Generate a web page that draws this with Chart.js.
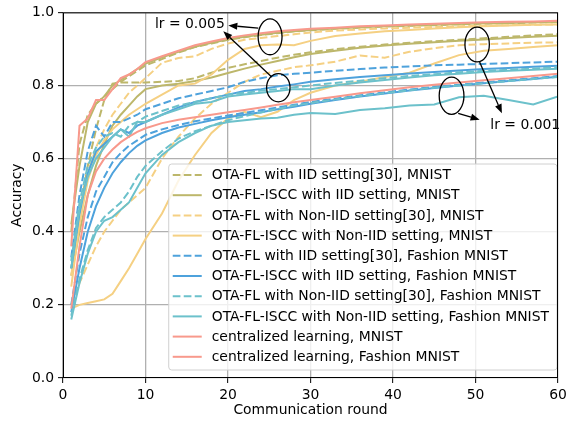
<!DOCTYPE html>
<html>
<head>
<meta charset="utf-8">
<script src="https://cdn.jsdelivr.net/npm/chart.js@4.4.1/dist/chart.umd.min.js"></script>
<style>
html,body{margin:0;padding:0;background:#fff}
canvas{display:block}
</style>
</head>
<body>
<canvas id="acc" width="585" height="423"></canvas>
<script>
// communication rounds where values were read
const rounds = [1,2,3,4,5,6,7,8,9,10,12,14,16,18,20,22,24,26,28,30,33,36,39,42,45,48,51,54,57,60];

// MNIST, lr = 0.005
const otaIidMnist005     = [0.40,0.64,0.72,0.75,0.77,0.79,0.81,0.825,0.84,0.855,0.872,0.89,0.905,0.915,0.925,0.932,0.938,0.943,0.948,0.951,0.955,0.958,0.961,0.963,0.965,0.967,0.969,0.970,0.972,0.973];
const isccIidMnist005    = [0.42,0.58,0.70,0.75,0.77,0.80,0.815,0.83,0.845,0.86,0.877,0.892,0.906,0.917,0.926,0.933,0.939,0.944,0.948,0.952,0.956,0.959,0.962,0.964,0.966,0.968,0.970,0.971,0.973,0.974];
const otaNonIidMnist005  = [0.28,0.45,0.56,0.63,0.68,0.72,0.75,0.78,0.80,0.82,0.862,0.875,0.88,0.90,0.915,0.925,0.93,0.935,0.94,0.945,0.95,0.953,0.956,0.958,0.96,0.962,0.964,0.965,0.966,0.967];
const isccNonIidMnist005 = [0.25,0.42,0.54,0.61,0.65,0.68,0.70,0.72,0.735,0.75,0.775,0.80,0.805,0.83,0.87,0.90,0.91,0.912,0.91,0.922,0.935,0.942,0.948,0.952,0.956,0.959,0.962,0.964,0.966,0.967];
// MNIST, lr = 0.001
const otaIidMnist001     = [0.30,0.45,0.58,0.68,0.76,0.805,0.808,0.808,0.808,0.808,0.81,0.812,0.82,0.835,0.848,0.858,0.867,0.876,0.884,0.891,0.899,0.906,0.912,0.917,0.921,0.925,0.929,0.933,0.937,0.94];
const isccIidMnist001    = [0.28,0.40,0.50,0.58,0.64,0.69,0.72,0.745,0.77,0.79,0.80,0.805,0.812,0.822,0.834,0.846,0.857,0.867,0.877,0.886,0.895,0.903,0.909,0.914,0.918,0.922,0.926,0.93,0.933,0.936];
const otaNonIidMnist001  = [0.20,0.26,0.31,0.36,0.40,0.43,0.46,0.48,0.50,0.52,0.60,0.66,0.71,0.75,0.78,0.81,0.83,0.84,0.85,0.855,0.865,0.882,0.876,0.892,0.902,0.91,0.913,0.915,0.917,0.918];
const isccNonIidMnist001 = [0.19,0.20,0.205,0.21,0.215,0.23,0.265,0.30,0.34,0.38,0.45,0.54,0.61,0.67,0.71,0.728,0.713,0.728,0.76,0.78,0.80,0.81,0.823,0.835,0.86,0.883,0.895,0.90,0.905,0.91];
// Fashion MNIST, lr = 0.005
const otaIidFashion005     = [0.33,0.50,0.62,0.69,0.66,0.70,0.70,0.71,0.72,0.735,0.75,0.765,0.775,0.785,0.795,0.81,0.82,0.828,0.832,0.835,0.84,0.845,0.849,0.852,0.855,0.857,0.859,0.861,0.863,0.865];
const isccIidFashion005    = [0.30,0.45,0.56,0.62,0.64,0.66,0.68,0.67,0.69,0.70,0.72,0.74,0.755,0.765,0.775,0.785,0.79,0.797,0.803,0.81,0.817,0.823,0.828,0.833,0.837,0.841,0.845,0.848,0.851,0.854];
const otaNonIidFashion005  = [0.32,0.48,0.58,0.63,0.66,0.67,0.66,0.69,0.70,0.715,0.73,0.745,0.755,0.765,0.775,0.78,0.786,0.79,0.795,0.80,0.807,0.813,0.82,0.826,0.831,0.836,0.84,0.843,0.846,0.85];
const isccNonIidFashion005 = [0.30,0.46,0.55,0.60,0.63,0.66,0.68,0.66,0.70,0.70,0.72,0.735,0.75,0.755,0.77,0.775,0.78,0.785,0.79,0.79,0.80,0.808,0.815,0.822,0.828,0.832,0.837,0.84,0.843,0.846];
// Fashion MNIST, lr = 0.001
const otaIidFashion001     = [0.20,0.34,0.44,0.51,0.55,0.59,0.615,0.635,0.65,0.665,0.68,0.692,0.702,0.71,0.718,0.725,0.732,0.74,0.747,0.755,0.764,0.773,0.781,0.789,0.796,0.802,0.808,0.814,0.82,0.826];
const isccIidFashion001    = [0.18,0.30,0.40,0.47,0.52,0.56,0.59,0.615,0.635,0.65,0.67,0.685,0.695,0.705,0.713,0.72,0.727,0.735,0.742,0.75,0.76,0.77,0.778,0.786,0.793,0.80,0.806,0.812,0.818,0.824];
const otaNonIidFashion001  = [0.17,0.27,0.35,0.41,0.44,0.46,0.48,0.51,0.55,0.58,0.62,0.655,0.675,0.69,0.705,0.716,0.726,0.736,0.745,0.752,0.762,0.771,0.779,0.787,0.794,0.80,0.806,0.812,0.818,0.823];
const isccNonIidFashion001 = [0.16,0.26,0.34,0.40,0.43,0.44,0.46,0.48,0.52,0.56,0.61,0.645,0.67,0.69,0.70,0.705,0.71,0.712,0.72,0.725,0.722,0.733,0.738,0.745,0.748,0.768,0.772,0.76,0.748,0.77];
// centralized learning
const centralMnist   = [0.36,0.69,0.71,0.76,0.76,0.79,0.82,0.83,0.845,0.864,0.88,0.895,0.91,0.92,0.93,0.937,0.943,0.948,0.952,0.955,0.958,0.962,0.964,0.967,0.969,0.971,0.973,0.974,0.975,0.977];
const centralFashion = [0.19,0.36,0.50,0.565,0.60,0.625,0.645,0.66,0.673,0.683,0.697,0.706,0.713,0.72,0.727,0.733,0.74,0.747,0.754,0.76,0.769,0.779,0.787,0.795,0.802,0.808,0.814,0.82,0.826,0.832];

const OLIVE='#bdb76b', YELLOW='#f5d083', BLUE='#4ea2dc', CYAN='#6cc1cb', SALMON='#f8998c';
const FONT = 'DejaVu Sans';
const FS = 13.9;

// legend entries, each with the curves for lr = 0.005 and lr = 0.001
const series = [
  {label:'OTA-FL with IID setting[30], MNIST', color:OLIVE, dashed:true, curves:[otaIidMnist005, otaIidMnist001]},
  {label:'OTA-FL-ISCC with IID setting, MNIST', color:OLIVE, dashed:false, curves:[isccIidMnist005, isccIidMnist001]},
  {label:'OTA-FL with Non-IID setting[30], MNIST', color:YELLOW, dashed:true, curves:[otaNonIidMnist005, otaNonIidMnist001]},
  {label:'OTA-FL-ISCC with Non-IID setting, MNIST', color:YELLOW, dashed:false, curves:[isccNonIidMnist005, isccNonIidMnist001]},
  {label:'OTA-FL with IID setting[30], Fashion MNIST', color:BLUE, dashed:true, curves:[otaIidFashion005, otaIidFashion001]},
  {label:'OTA-FL-ISCC with IID setting, Fashion MNIST', color:BLUE, dashed:false, curves:[isccIidFashion005, isccIidFashion001]},
  {label:'OTA-FL with Non-IID setting[30], Fashion MNIST', color:CYAN, dashed:true, curves:[otaNonIidFashion005, otaNonIidFashion001]},
  {label:'OTA-FL-ISCC with Non-IID setting, Fashion MNIST', color:CYAN, dashed:false, curves:[isccNonIidFashion005, isccNonIidFashion001]},
  {label:'centralized learning, MNIST', color:SALMON, dashed:false, curves:[centralMnist]},
  {label:'centralized learning, Fashion MNIST', color:SALMON, dashed:false, curves:[centralFashion]},
];
const DASH = [7.7, 3.3];

// annotations in data units
const notes = [
  {text:'lr = 0.005', x:11.15, y:0.966},
  {text:'lr = 0.001', x:51.8, y:0.692},
];
const ellipses = [
  {x:25.1, y:0.933, rx:1.45, ry:0.049},
  {x:26.1, y:0.794, rx:1.42, ry:0.0386},
  {x:50.2, y:0.912, rx:1.48, ry:0.0476},
  {x:47.1, y:0.772, rx:1.50, ry:0.051},
];
const arrows = [
  {from:[23.67,0.957], to:[20.04,0.964]},
  {from:[25.3,0.823], to:[19.43,0.948]},
  {from:[50.5,0.864], to:[53.2,0.724]},
  {from:[47.9,0.724], to:[50.5,0.706]},
];

const datasets = [];
series.forEach(s => s.curves.forEach(arr => {
  datasets.push({
    label: s.label,
    data: rounds.map((r,i) => ({x:r, y:arr[i]})),
    borderColor: s.color,
    borderWidth: 2,
    borderDash: s.dashed ? DASH : [],
    pointRadius: 0,
    tension: 0,
    fill: false,
  });
}));
datasets.forEach((d,i) => d.order = datasets.length - i); // later ones on top, like matplotlib

const annotate = {
  id:'annotate',
  afterDatasetsDraw(chart){
    const {ctx, scales:{x, y}} = chart;
    const px = v => x.getPixelForValue(v), py = v => y.getPixelForValue(v);
    ctx.save();
    ctx.strokeStyle = '#000'; ctx.fillStyle = '#000'; ctx.lineWidth = 1.3;
    ellipses.forEach(e => {
      const cx = px(e.x), cy = py(e.y);
      ctx.beginPath();
      ctx.ellipse(cx, cy, px(e.x+e.rx)-cx, cy-py(e.y+e.ry), 0, 0, Math.PI*2);
      ctx.stroke();
    });
    arrows.forEach(a => {
      const x0=px(a.from[0]), y0=py(a.from[1]), x1=px(a.to[0]), y1=py(a.to[1]);
      const ang = Math.atan2(y1-y0, x1-x0), L = 9, W = 3.5;
      const bx = x1 - L*Math.cos(ang), by = y1 - L*Math.sin(ang);
      ctx.beginPath(); ctx.moveTo(x0,y0); ctx.lineTo(bx,by); ctx.stroke();
      ctx.beginPath();
      ctx.moveTo(x1,y1);
      ctx.lineTo(bx + W*Math.sin(ang), by - W*Math.cos(ang));
      ctx.lineTo(bx - W*Math.sin(ang), by + W*Math.cos(ang));
      ctx.closePath(); ctx.fill();
    });
    ctx.font = FS + 'px "' + FONT + '"';
    ctx.textAlign = 'left'; ctx.textBaseline = 'middle';
    notes.forEach(n => ctx.fillText(n.text, px(n.x), py(n.y)));
    ctx.restore();
  }
};

const boxAndLegend = {
  id:'boxAndLegend',
  afterDraw(chart){
    const {ctx, chartArea:ca} = chart;
    ctx.save();
    // legend
    ctx.font = FS + 'px "' + FONT + '"';
    const maxW = Math.max(...series.map(s => ctx.measureText(s.label).width));
    const w = 43 + maxW + 8, rowH = 20.2, h = rowH*series.length + 4;
    const right = ca.right - 1, bottom = ca.bottom - 8;
    const left = right - w, top = bottom - h;
    ctx.beginPath();
    ctx.roundRect(left, top, w, h, 3);
    ctx.fillStyle = 'rgba(255,255,255,0.8)'; ctx.fill();
    ctx.strokeStyle = '#d0d0d0'; ctx.lineWidth = 1; ctx.stroke();
    ctx.textBaseline = 'middle'; ctx.textAlign = 'left';
    series.forEach((s,i) => {
      const cy = top + 11 + i*rowH;
      ctx.beginPath();
      ctx.setLineDash(s.dashed ? DASH : []);
      ctx.strokeStyle = s.color; ctx.lineWidth = 2;
      ctx.moveTo(left+4, cy); ctx.lineTo(left+33, cy); ctx.stroke();
      ctx.setLineDash([]);
      ctx.fillStyle = '#000';
      ctx.fillText(s.label, left+43, cy+0.5);
    });
    // axes frame
    ctx.strokeStyle = '#000'; ctx.lineWidth = 1;
    ctx.strokeRect(ca.left+0.5, ca.top+0.5, ca.right-ca.left-1, ca.bottom-ca.top-1);
    ctx.restore();
  }
};

Chart.defaults.font.family = FONT;
Chart.defaults.font.size = FS;
Chart.defaults.color = '#000';

new Chart(document.getElementById('acc'), {
  type:'line',
  data:{datasets},
  options:{
    responsive:false,
    devicePixelRatio:1,
    animation:false,
    layout:{padding:{left:0, right:27, top:10, bottom:0}},
    plugins:{legend:{display:false}, tooltip:{enabled:false}},
    scales:{
      x:{
        type:'linear', min:0, max:60,
        ticks:{stepSize:10, padding:4, maxRotation:0, color:'#000'},
        grid:{color:'#b0b0b0', lineWidth:1.3, tickColor:'#000', tickLength:5, tickWidth:1},
        border:{display:false},
        title:{display:true, text:'Communication round', color:'#000', padding:{top:0, bottom:4}},
        afterFit:s => { s.height = 45; }
      },
      y:{
        min:0, max:1,
        ticks:{stepSize:0.2, padding:4, color:'#000', callback:v => v.toFixed(1)},
        grid:{color:'#b0b0b0', lineWidth:1.3, tickColor:'#000', tickLength:5, tickWidth:1},
        border:{display:false},
        title:{display:true, text:'Accuracy', color:'#000', padding:{top:9, bottom:0}},
        afterFit:s => { s.width = 63; }
      }
    }
  },
  plugins:[annotate, boxAndLegend]
});
</script>
</body>
</html>
